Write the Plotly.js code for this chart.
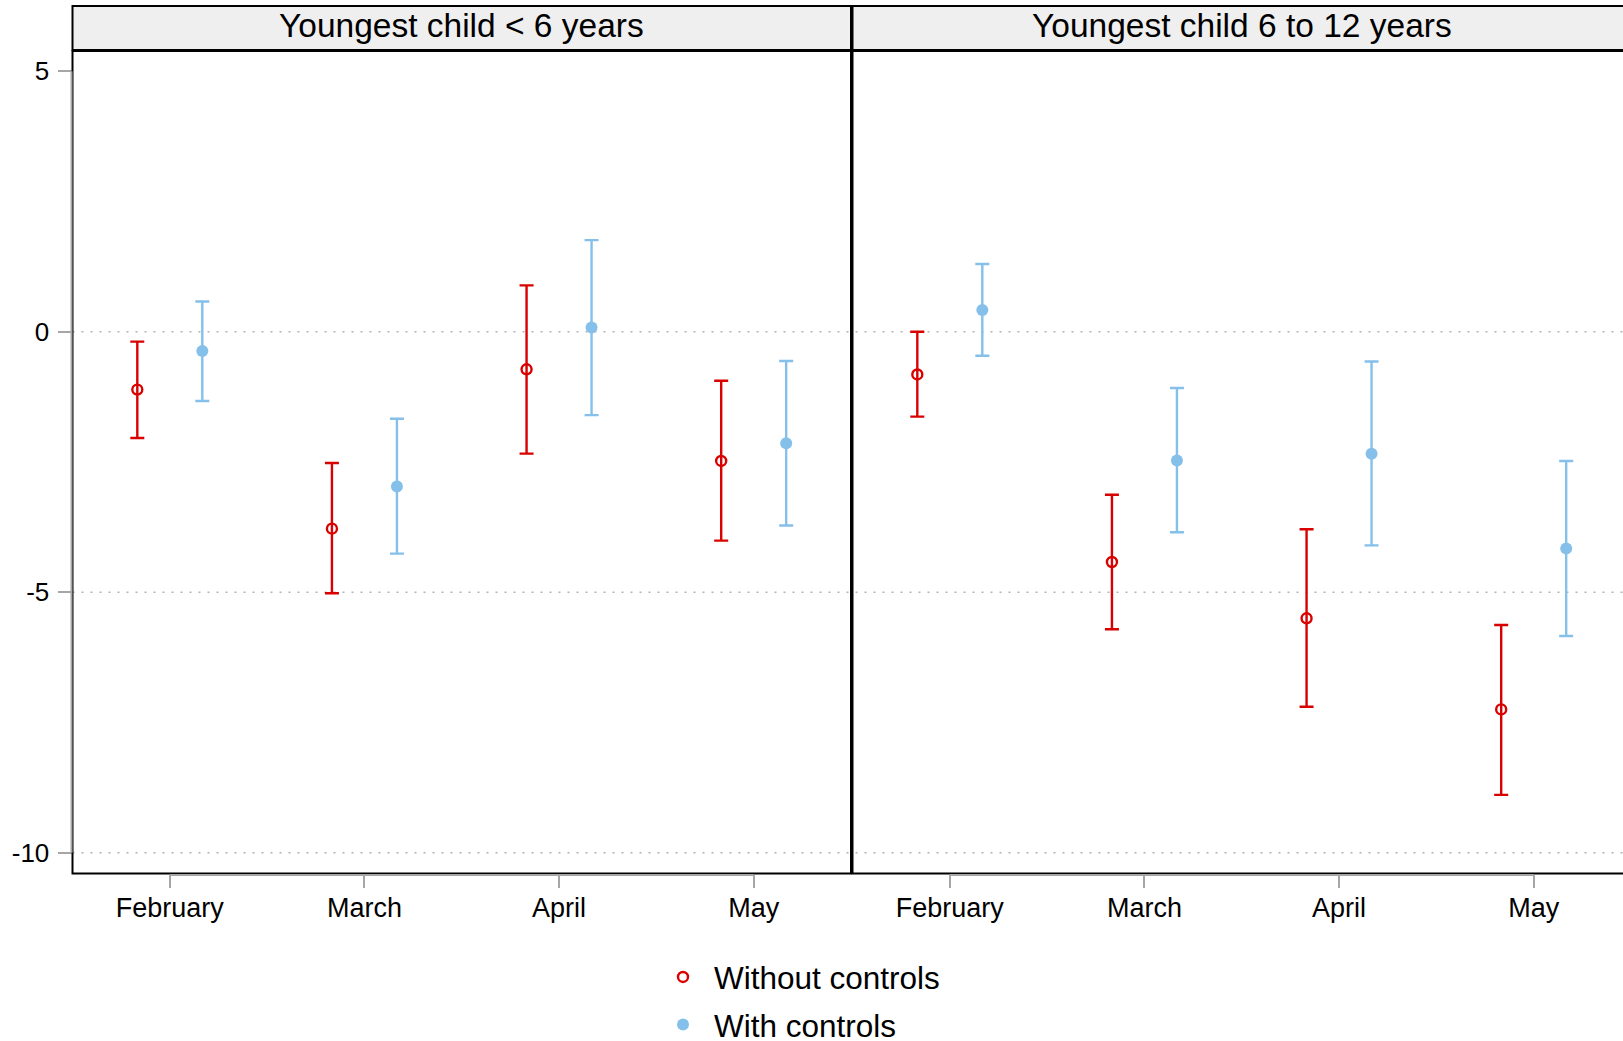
<!DOCTYPE html>
<html>
<head>
<meta charset="utf-8">
<script src="https://cdn.plot.ly/plotly-3.0.1.min.js"></script>
<style>
  html, body { margin: 0; padding: 0; background: #ffffff; }
  #chart { width: 1623px; height: 1041px; }
</style>
</head>
<body>
<div id="chart"></div>
<script>
// ---------------- DATA ----------------
const months = ['February', 'March', 'April', 'May'];
const panelTitles = ['Youngest child < 6 years', 'Youngest child 6 to 12 years'];
const seriesNames = ['Without controls', 'With controls'];

// Youngest child < 6 years
const under6_without_est = [-1.11, -3.78, -0.72, -2.48];
const under6_without_lo  = [-2.04, -5.02, -2.34, -4.01];
const under6_without_hi  = [-0.19, -2.52,  0.89, -0.94];
const under6_with_est    = [-0.37, -2.97,  0.08, -2.14];
const under6_with_lo     = [-1.33, -4.26, -1.60, -3.72];
const under6_with_hi     = [ 0.58, -1.67,  1.76, -0.56];

// Youngest child 6 to 12 years
const age6to12_without_est = [-0.82, -4.42, -5.50, -7.25];
const age6to12_without_lo  = [-1.63, -5.71, -7.20, -8.89];
const age6to12_without_hi  = [ 0.00, -3.13, -3.79, -5.63];
const age6to12_with_est    = [ 0.42, -2.47, -2.34, -4.16];
const age6to12_with_lo     = [-0.46, -3.85, -4.10, -5.84];
const age6to12_with_hi     = [ 1.30, -1.08, -0.57, -2.48];

const yTicks = [-10, -5, 0, 5];
const gridValues = [-10, -5, 0];

// ---------------- STYLE / GEOMETRY ----------------
const W = 1623, H = 1041;
const RED = '#d90000';
const BLUE = '#84c0ea';
const GREY = '#a6a6a6';
const FONT = 'Liberation Sans, Arial, Helvetica, sans-serif';
const dodge = 0.167;

const px = p => p / W;
const py = p => 1 - p / H;

const leftL = 72.5, leftR = 851, rightL = 852.5;
const plotTop = 51, plotBot = 873.5;
const stripTop = 6, stripBot = 50;
const unitPx = (leftR - leftL) / 4;
const x2max = 0.5 + (W - rightL) / unitPx;

const idx = months.map((m, i) => i + 1);

function errTrace(est, lo, hi, off, color, symbol, size, lineW, xa, ya, name, showLeg) {
  return {
    type: 'scatter', mode: 'markers',
    x: idx.map(v => v + off), y: est,
    xaxis: xa, yaxis: ya,
    name: name, showlegend: showLeg, legendgroup: name,
    marker: { color: color, symbol: symbol, size: size, line: { color: color, width: lineW } },
    error_y: {
      type: 'data', symmetric: false,
      array: hi.map((h, i) => h - est[i]),
      arrayminus: lo.map((l, i) => est[i] - l),
      color: color, thickness: 2.4, width: 7
    },
    hoverinfo: 'x+y'
  };
}

const data = [
  errTrace(under6_without_est, under6_without_lo, under6_without_hi, -dodge, RED, 'circle-open', 10, 2.4, 'x', 'y', seriesNames[0], true),
  errTrace(under6_with_est, under6_with_lo, under6_with_hi, dodge, BLUE, 'circle', 12, 0, 'x', 'y', seriesNames[1], true),
  errTrace(age6to12_without_est, age6to12_without_lo, age6to12_without_hi, -dodge, RED, 'circle-open', 10, 2.4, 'x2', 'y2', seriesNames[0], false),
  errTrace(age6to12_with_est, age6to12_with_lo, age6to12_with_hi, dodge, BLUE, 'circle', 12, 0, 'x2', 'y2', seriesNames[1], false)
];

const xAxisBase = {
  tickmode: 'array', tickvals: idx, ticktext: months,
  ticks: 'outside', ticklen: 13, tickwidth: 2, tickcolor: GREY,
  showline: false, showgrid: false, zeroline: false,
  tickfont: { family: FONT, size: 27, color: '#000' },
  ticklabelstandoff: -3,
  fixedrange: true, automargin: false
};
const yAxisBase = {
  range: [-10.4, 5.39],
  domain: [py(plotBot), py(plotTop)],
  showline: false, showgrid: false, zeroline: false, fixedrange: true, automargin: false
};

const shapes = [];
// dotted grid lines
gridValues.forEach(g => {
  shapes.push({ type: 'line', layer: 'below', xref: 'paper', yref: 'y', x0: px(leftL), x1: 1, y0: g, y1: g,
    line: { color: '#b3b3b3', width: 1.5, dash: '2px,7px' } });
});
// strips
shapes.push({ type: 'rect', xref: 'paper', yref: 'paper', x0: px(leftL), x1: px(leftR), y0: py(stripBot), y1: py(stripTop),
  fillcolor: '#efefef', line: { color: '#000', width: 2 }, layer: 'below' });
shapes.push({ type: 'rect', xref: 'paper', yref: 'paper', x0: px(rightL), x1: 1.02, y0: py(stripBot), y1: py(stripTop),
  fillcolor: '#efefef', line: { color: '#000', width: 2 }, layer: 'below' });
// panel frames
shapes.push({ type: 'rect', xref: 'paper', yref: 'paper', x0: px(leftL), x1: px(leftR), y0: py(plotBot), y1: py(plotTop),
  line: { color: '#000', width: 2 }, layer: 'above' });
shapes.push({ type: 'rect', xref: 'paper', yref: 'paper', x0: px(rightL), x1: 1.02, y0: py(plotBot), y1: py(plotTop),
  line: { color: '#000', width: 2 }, layer: 'above' });
// grey axis lines (first to last tick)
shapes.push({ type: 'line', xref: 'paper', yref: 'y', x0: px(leftL - 1), x1: px(leftL - 1), y0: yTicks[0], y1: yTicks[yTicks.length - 1],
  line: { color: GREY, width: 2 }, layer: 'above' });
shapes.push({ type: 'line', xref: 'x', yref: 'paper', x0: idx[0], x1: idx[idx.length - 1], y0: py(plotBot + 1.5), y1: py(plotBot + 1.5),
  line: { color: GREY, width: 2 }, layer: 'above' });
shapes.push({ type: 'line', xref: 'x2', yref: 'paper', x0: idx[0], x1: idx[idx.length - 1], y0: py(plotBot + 1.5), y1: py(plotBot + 1.5),
  line: { color: GREY, width: 2 }, layer: 'above' });

const layout = {
  width: W, height: H,
  margin: { l: 0, r: 0, t: 0, b: 0, pad: 0, autoexpand: false },
  paper_bgcolor: '#ffffff', plot_bgcolor: 'rgba(0,0,0,0)',
  font: { family: FONT, color: '#000' },
  xaxis: Object.assign({}, xAxisBase, { domain: [px(leftL), px(leftR)], range: [0.5, 4.5], anchor: 'y' }),
  xaxis2: Object.assign({}, xAxisBase, { domain: [px(rightL), 1], range: [0.5, x2max], anchor: 'y2' }),
  yaxis: Object.assign({}, yAxisBase, {
    anchor: 'x', tickmode: 'array', tickvals: yTicks, ticktext: yTicks.map(String),
    ticks: 'outside', ticklen: 14, tickwidth: 2, tickcolor: GREY, ticklabelstandoff: 3,
    tickfont: { family: FONT, size: 26, color: '#000' }
  }),
  yaxis2: Object.assign({}, yAxisBase, { anchor: 'x2', matches: 'y', showticklabels: false, ticks: '' }),
  shapes: shapes,
  annotations: [
    { text: panelTitles[0], xref: 'paper', yref: 'paper', x: px((leftL + leftR) / 2), y: py(26),
      xanchor: 'center', yanchor: 'middle', showarrow: false, font: { family: FONT, size: 33.5, color: '#000' } },
    { text: panelTitles[1], xref: 'paper', yref: 'paper', x: px(rightL + 2 * unitPx), y: py(26),
      xanchor: 'center', yanchor: 'middle', showarrow: false, font: { family: FONT, size: 33.5, color: '#000' } }
  ],
  showlegend: true,
  legend: {
    x: px(652), y: py(950), xanchor: 'left', yanchor: 'top',
    orientation: 'v', bgcolor: 'rgba(0,0,0,0)', borderwidth: 0,
    font: { family: FONT, size: 31.5, color: '#000' },
    itemwidth: 52, traceorder: 'grouped', tracegroupgap: 3.5
  },
  hovermode: 'closest'
};

Plotly.newPlot('chart', data, layout, { displayModeBar: false, responsive: false });
</script>
</body>
</html>
